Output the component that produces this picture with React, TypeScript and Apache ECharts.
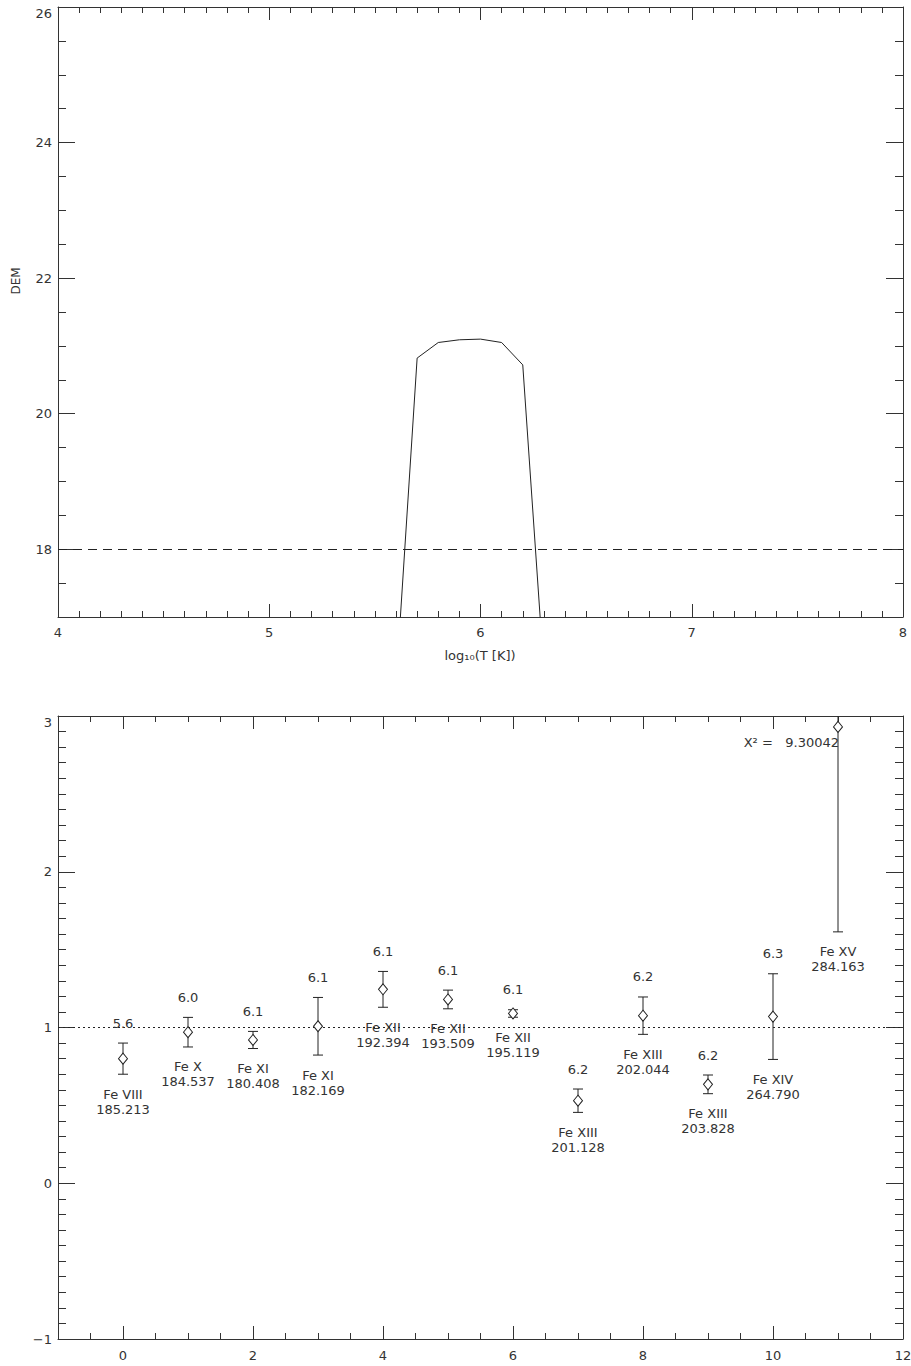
import React, { useEffect, useRef } from 'react';
import * as echarts from 'echarts';

// ---- Top panel: DEM curve ----
const demLogT = [5.6, 5.7, 5.8, 5.9, 6.0, 6.1, 6.2, 6.3];
const demValues = [16.0, 20.82, 21.05, 21.09, 21.1, 21.05, 20.72, 16.2];
const demRefLevel = 18;
const demXTicks = [4, 5, 6, 7, 8];
const demYTicks = [18, 20, 22, 24, 26];

// ---- Bottom panel: line ratios ----
const lineIndex = [0, 1, 2, 3, 4, 5, 6, 7, 8, 9, 10, 11];
const ratioValues = [0.8, 0.97, 0.92, 1.008, 1.245, 1.18, 1.09, 0.53, 1.076, 0.635, 1.07, 2.93];
const ratioErrors = [0.1, 0.095, 0.055, 0.185, 0.115, 0.06, 0.024, 0.075, 0.12, 0.06, 0.275, 1.316];
const logTmax = ['5.6', '6.0', '6.1', '6.1', '6.1', '6.1', '6.1', '6.2', '6.2', '6.2', '6.3', ''];
const ionNames = ['Fe VIII', 'Fe X', 'Fe XI', 'Fe XI', 'Fe XII', 'Fe XII', 'Fe XII', 'Fe XIII', 'Fe XIII', 'Fe XIII', 'Fe XIV', 'Fe XV'];
const wavelengths = ['185.213', '184.537', '180.408', '182.169', '192.394', '193.509', '195.119', '201.128', '202.044', '203.828', '264.790', '284.163'];
const chiSquared = '9.30042';
const ratioRefLevel = 1;
const ratioXTicks = [0, 2, 4, 6, 8, 10, 12];
const ratioYTicks = [-1, 0, 1, 2, 3];

const INK = '#333';
const FONT = 'DejaVu Sans';
const FS = 13;

function axisBase(gridIndex: number, position: string, min: number, max: number) {
  return {
    type: 'value',
    gridIndex,
    position,
    min,
    max,
    splitLine: { show: false },
    axisLine: { show: true, onZero: false, lineStyle: { color: INK, width: 1 } },
    axisTick: { show: false },
    axisLabel: { show: false },
    minorTick: { show: false },
    minorSplitLine: { show: false },
  };
}

function tickAxis(gridIndex: number, position: string, min: number, max: number, values: number[], len: number) {
  const a: any = axisBase(gridIndex, position, min, max);
  a.axisLine = { show: false, onZero: false };
  a.axisTick = { show: true, inside: true, length: len, customValues: values, lineStyle: { color: INK, width: 1 } };
  return a;
}

const labelStyle = { color: INK, fontFamily: FONT, fontSize: FS };

export default function App() {
  const ref = useRef<HTMLDivElement>(null);
  useEffect(() => {
    if (!ref.current) return;
    const chart = echarts.init(ref.current, undefined, { renderer: 'svg' });

    const xAxes: any[] = [];
    const yAxes: any[] = [];

    // top panel x axes (0: bottom, 1: top)
    for (const pos of ['bottom', 'top']) {
      const a: any = axisBase(0, pos, 4, 8);
      a.interval = 1;
      a.axisTick = { show: true, inside: true, length: 13, lineStyle: { color: INK } };
      a.minorTick = { show: true, splitNumber: 10, length: 6, lineStyle: { color: INK } };
      if (pos === 'bottom') a.axisLabel = { show: true, margin: 9, ...labelStyle, customValues: demXTicks };
      xAxes.push(a);
    }
    // bottom panel x axes (2: bottom minor, 3: bottom major, 4: top minor, 5: top major)
    for (const pos of ['bottom', 'top']) {
      const a: any = axisBase(1, pos, -1, 12);
      a.interval = 0.5;
      a.axisTick = { show: true, inside: true, length: 6, lineStyle: { color: INK } };
      if (pos === 'bottom') a.axisLabel = { show: true, margin: 10, ...labelStyle, customValues: ratioXTicks };
      xAxes.push(a);
      xAxes.push(tickAxis(1, pos, -1, 12, ratioXTicks, 13));
    }

    // top panel y axes (0: left minor, 1: left major, 2: right minor, 3: right major)
    for (const pos of ['left', 'right']) {
      const a: any = axisBase(0, pos, 17, 26);
      a.interval = 0.5;
      a.axisTick = { show: true, inside: true, length: 8, lineStyle: { color: INK } };
      if (pos === 'left') a.axisLabel = { show: true, margin: 6, ...labelStyle, customValues: demYTicks, verticalAlignMaxLabel: 'top' };
      yAxes.push(a);
      yAxes.push(tickAxis(0, pos, 17, 26, demYTicks, 17));
    }
    // bottom panel y axes (4: left, 5: right)
    for (const pos of ['left', 'right']) {
      const a: any = axisBase(1, pos, -1, 3);
      a.interval = 1;
      a.axisTick = { show: true, inside: true, length: 17, lineStyle: { color: INK } };
      a.minorTick = { show: true, splitNumber: 10, length: 8, lineStyle: { color: INK } };
      if (pos === 'left')
        a.axisLabel = {
          show: true, margin: 6, ...labelStyle, customValues: ratioYTicks, verticalAlignMaxLabel: 'top',
          formatter: (v: number) => String(v).replace('-', '\u2212'),
        };
      yAxes.push(a);
    }

    const ratioData = lineIndex.map((x, i) => [x, ratioValues[i], ratioErrors[i]]);

    const option: any = {
      animation: false,
      backgroundColor: '#fff',
      grid: [
        { left: 58, top: 7, width: 845, height: 610, outerBoundsMode: 'none', containLabel: false },
        { left: 58, top: 716, width: 845, height: 623, outerBoundsMode: 'none', containLabel: false },
      ],
      xAxis: xAxes,
      yAxis: yAxes,
      graphic: [
        {
          type: 'text', x: 16, y: 281, rotation: Math.PI / 2,
          style: { text: 'DEM', fill: INK, fontFamily: FONT, fontSize: 12, align: 'center', verticalAlign: 'middle' },
        },
        {
          type: 'text', x: 480, y: 655,
          style: { text: 'log\u2081\u2080(T [K])', fill: INK, fontFamily: FONT, fontSize: FS, align: 'center', verticalAlign: 'middle' },
        },
        {
          type: 'text', x: 839, y: 742,
          style: { text: 'X\u00B2 =   ' + chiSquared, fill: INK, fontFamily: FONT, fontSize: FS, align: 'right', verticalAlign: 'middle' },
        },
      ],
      series: [
        {
          type: 'line',
          xAxisIndex: 0,
          yAxisIndex: 0,
          data: demLogT.map((t, i) => [t, demValues[i]]),
          symbol: 'none',
          clip: true,
          lineStyle: { color: '#222', width: 1 },
          markLine: {
            silent: true,
            symbol: 'none',
            label: { show: false },
            lineStyle: { color: '#222', width: 1, type: [9, 6] },
            data: [{ yAxis: demRefLevel }],
          },
        },
        {
          type: 'custom',
          xAxisIndex: 2,
          yAxisIndex: 4,
          clip: true,
          data: ratioData,
          renderItem: (params: any, api: any) => {
            const x = api.value(0), v = api.value(1), e = api.value(2);
            const top = api.coord([x, v + e]);
            const bot = api.coord([x, v - e]);
            const st = { stroke: '#222', lineWidth: 1 };
            return {
              type: 'group',
              children: [
                { type: 'line', shape: { x1: top[0], y1: top[1], x2: bot[0], y2: bot[1] }, style: st },
                { type: 'line', shape: { x1: top[0] - 5, y1: top[1], x2: top[0] + 5, y2: top[1] }, style: st },
                { type: 'line', shape: { x1: bot[0] - 5, y1: bot[1], x2: bot[0] + 5, y2: bot[1] }, style: st },
              ],
            };
          },
        },
        {
          type: 'scatter',
          xAxisIndex: 2,
          yAxisIndex: 4,
          data: lineIndex.map((x, i) => [x, ratioValues[i]]),
          symbol: 'diamond',
          symbolSize: [9, 11],
          z: 5,
          itemStyle: { color: '#fff', borderColor: '#222', borderWidth: 1, opacity: 1 },
          markLine: {
            silent: true,
            symbol: 'none',
            label: { show: false },
            lineStyle: { color: '#222', width: 1, type: [2, 3] },
            data: [{ yAxis: ratioRefLevel }],
          },
        },
        {
          type: 'custom',
          xAxisIndex: 2,
          yAxisIndex: 4,
          clip: false,
          z: 6,
          data: ratioData,
          renderItem: (params: any, api: any) => {
            const i = params.dataIndex;
            const x = api.value(0), v = api.value(1), e = api.value(2);
            const top = api.coord([x, v + e]);
            const bot = api.coord([x, v - e]);
            const ts = (text: string, y: number) => ({
              type: 'text', x: top[0], y,
              style: { text, fill: INK, fontFamily: FONT, fontSize: FS, align: 'center', verticalAlign: 'middle' },
            });
            return {
              type: 'group',
              children: [
                ts(logTmax[i], top[1] - 20),
                ts(ionNames[i], bot[1] + 20),
                ts(wavelengths[i], bot[1] + 35),
              ],
            };
          },
        },
      ],
    };
    chart.setOption(option);
    return () => chart.dispose();
  }, []);
  return <div ref={ref} style={{ position: 'fixed', left: 0, top: 0, width: 911, height: 1366, background: '#fff' }} />;
}
